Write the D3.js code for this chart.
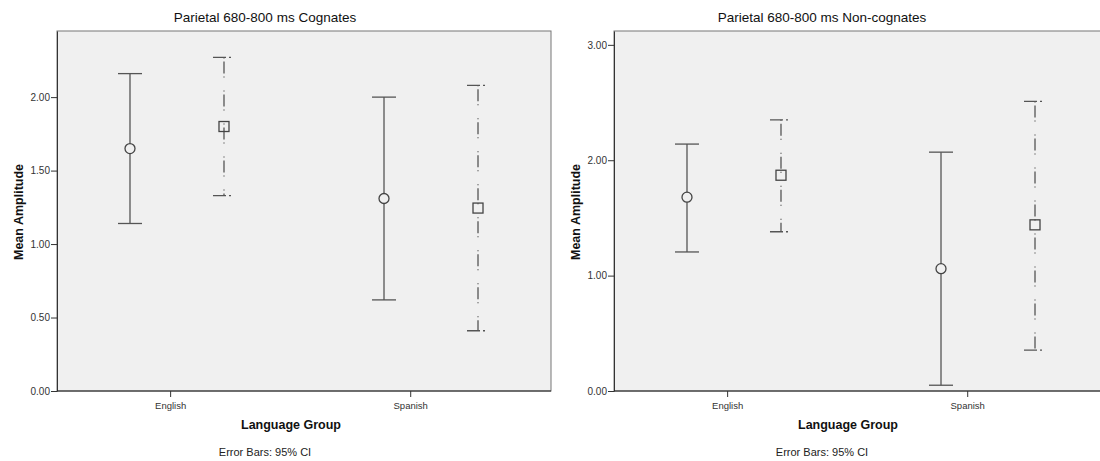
<!DOCTYPE html>
<html>
<head>
<meta charset="utf-8">
<script src="https://cdn.jsdelivr.net/npm/d3@7"></script>
<style>
  body { margin: 0; background: #fff; }
  svg { display: block; font-family: "Liberation Sans", Arial, sans-serif; }
</style>
</head>
<body>
<div id="chart"></div>
<script>
// Mean amplitude with 95% CI, two conditions per language group
const groups = ['English', 'Spanish'];
const seriesKeys = ['first', 'second'];

// Cognates panel
const cogMeanA = [1.65, 1.31];
const cogLowA = [1.14, 0.62];
const cogHighA = [2.16, 2.00];
const cogMeanB = [1.80, 1.245];
const cogLowB = [1.33, 0.41];
const cogHighB = [2.27, 2.08];
const cogTicks = [0, 0.5, 1.0, 1.5, 2.0];

// Non-cognates panel
const nonMeanA = [1.68, 1.06];
const nonLowA = [1.205, 0.05];
const nonHighA = [2.14, 2.07];
const nonMeanB = [1.87, 1.44];
const nonLowB = [1.38, 0.355];
const nonHighB = [2.35, 2.51];
const nonTicks = [0, 1.0, 2.0, 3.0];

const width = 1100, height = 461;

const svg = d3.select('#chart').append('svg')
  .attr('width', width)
  .attr('height', height);

function toRows(mean, low, high) {
  return groups.map((g, i) => ({ group: g, mean: mean[i], low: low[i], high: high[i] }));
}

function drawPanel(offsetX, title, yMax, ticks, rowsA, rowsB) {
  const margin = { top: 31, left: 57 };
  const w = 494, h = 360;
  const root = svg.append('g').attr('transform', `translate(${offsetX},0)`);
  const g = root.append('g').attr('transform', `translate(${margin.left},${margin.top})`);

  const y = d3.scaleLinear().domain([0, yMax]).range([h, 0]);
  const xGroup = d3.scalePoint().domain(groups).range([0, w]).padding(0.4724);
  const xSub = d3.scalePoint().domain(seriesKeys).range([-47, 47]);
  const xTick = d3.scalePoint().domain(groups).range([w * 0.229, w * 0.715]);

  // plot background + frame
  g.append('rect')
    .attr('width', w).attr('height', h)
    .attr('fill', '#f0f0f0')
    .attr('stroke', '#777');

  // Y axis
  const yAxis = g.append('g')
    .call(d3.axisLeft(y).tickValues(ticks).tickFormat(d3.format('.2f')).tickSize(6).tickSizeOuter(0));
  yAxis.select('.domain').attr('stroke', '#333');
  yAxis.selectAll('line').attr('stroke', '#333');
  yAxis.selectAll('text').attr('fill', '#333').attr('font-size', '10px').attr('x', -7);

  // X axis
  const xAxis = g.append('g')
    .attr('transform', `translate(0,${h})`)
    .call(d3.axisBottom(xTick).tickSize(6).tickSizeOuter(0));
  xAxis.select('.domain').attr('d', `M0,0H${w}`).attr('stroke', '#222');
  xAxis.selectAll('line').attr('stroke', '#333');
  xAxis.selectAll('text').attr('fill', '#333').attr('font-size', '9.5px').attr('dy', '0.9em');

  // error bars: first series solid with open circle
  const colBar = '#555';
  const a = g.append('g');
  rowsA.forEach(d => {
    const cx = xGroup(d.group) + xSub('first');
    a.append('line').attr('x1', cx).attr('x2', cx)
      .attr('y1', y(d.high)).attr('y2', y(d.low))
      .attr('stroke', colBar).attr('stroke-width', 1.3);
    [d.high, d.low].forEach(v => {
      a.append('line').attr('x1', cx - 12).attr('x2', cx + 12)
        .attr('y1', y(v)).attr('y2', y(v))
        .attr('stroke', colBar).attr('stroke-width', 1.3);
    });
    a.append('circle').attr('cx', cx).attr('cy', y(d.mean)).attr('r', 5)
      .attr('fill', '#f0f0f0').attr('stroke', '#444').attr('stroke-width', 1.3);
  });

  // second series dash-dot with open square
  const b = g.append('g');
  rowsB.forEach(d => {
    const cx = xGroup(d.group) + xSub('second');
    b.append('line').attr('x1', cx).attr('x2', cx)
      .attr('y1', y(d.high)).attr('y2', y(d.low))
      .attr('stroke', colBar).attr('stroke-width', 1.3)
      .attr('stroke-dasharray', '1,3,12,3,1,13');
    [d.high, d.low].forEach(v => {
      b.append('line').attr('x1', cx - 11).attr('x2', cx + 9)
        .attr('y1', y(v)).attr('y2', y(v))
        .attr('stroke', colBar).attr('stroke-width', 1.3)
        .attr('stroke-dasharray', '13,3,2,10');
    });
    b.append('rect').attr('x', cx - 5).attr('y', y(d.mean) - 5)
      .attr('width', 10).attr('height', 10)
      .attr('fill', 'none').attr('stroke', '#444').attr('stroke-width', 1.3);
  });

  // texts
  root.append('text')
    .attr('x', 265).attr('y', 22)
    .attr('text-anchor', 'middle')
    .attr('font-size', '13.5px')
    .attr('fill', '#111')
    .text(title);

  root.append('text')
    .attr('x', 291).attr('y', 429)
    .attr('text-anchor', 'middle')
    .attr('font-size', '12.5px').attr('font-weight', 'bold')
    .attr('fill', '#111')
    .text('Language Group');

  root.append('text')
    .attr('x', 265).attr('y', 456)
    .attr('text-anchor', 'middle')
    .attr('font-size', '11px')
    .attr('fill', '#222')
    .text('Error Bars: 95% CI');

  root.append('text')
    .attr('transform', `translate(23,212) rotate(-90)`)
    .attr('text-anchor', 'middle')
    .attr('font-size', '12.5px').attr('font-weight', 'bold')
    .attr('fill', '#111')
    .text('Mean Amplitude');
}

drawPanel(0, 'Parietal 680-800 ms Cognates', 2.45, cogTicks,
  toRows(cogMeanA, cogLowA, cogHighA), toRows(cogMeanB, cogLowB, cogHighB));
drawPanel(557, 'Parietal 680-800 ms Non-cognates', 3.12, nonTicks,
  toRows(nonMeanA, nonLowA, nonHighA), toRows(nonMeanB, nonLowB, nonHighB));
</script>
</body>
</html>
